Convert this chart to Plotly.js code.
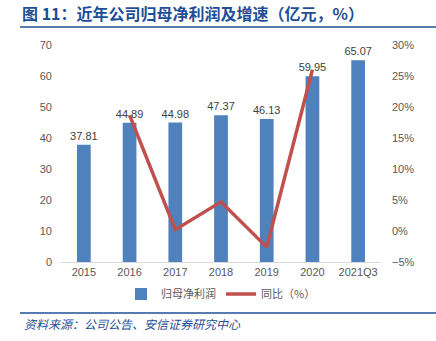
<!DOCTYPE html>
<html><head><meta charset="utf-8">
<script src="https://cdn.plot.ly/plotly-3.0.1.min.js"></script>
<style>html,body{margin:0;padding:0;background:#fff;}#c{width:436px;height:341px;}</style>
</head><body><div id="c"></div>
<script>
const categories = ['2015','2016','2017','2018','2019','2020','2021Q3'];
const profit = [37.81, 44.89, 44.98, 47.37, 46.13, 59.95, 65.07];
const growth = [null, 18.7, 0.2, 4.7, -2.6, 26.0, null];
const seriesNames = ['归母净利润', '同比（%）'];
const titleText = '图 11：近年公司归母净利润及增速（亿元，%）';
const sourceText = '资料来源：公司公告、安信证券研究中心';

const numFont = 'Liberation Sans, Arial, sans-serif';
const cjk = 'Noto Sans CJK SC, sans-serif';
const blue = '#1F4E96';

const traces = [
  {type:'bar', x:categories, y:profit, name:seriesNames[0], width:0.3,
   marker:{color:'#4F81BD'}, text:profit.map(v=>v.toFixed(2)), textposition:'outside',
   constraintext:'none',
   textfont:{family:numFont,size:11,color:'#404040'}, cliponaxis:false},
  {type:'scatter', mode:'lines', x:categories, y:growth, yaxis:'y2', name:seriesNames[1],
   line:{color:'#C0504D',width:3.5}, connectgaps:false}
];

const layout = {
  width:436, height:341,
  margin:{l:61, r:55, t:45, b:79},
  paper_bgcolor:'#fff', plot_bgcolor:'#fff',
  showlegend:true,
  title:{text:'<b>'+titleText+'</b>', font:{family:cjk,size:16,color:blue},
    xref:'container', yref:'container', x:22/436, xanchor:'left', y:1-14/341, yanchor:'middle'},
  xaxis:{type:'category', showgrid:false, showline:true, linecolor:'#D9D9D9', linewidth:1,
    ticks:'', tickfont:{family:numFont,size:11,color:'#595959'}, fixedrange:true},
  yaxis:{range:[0,70], dtick:10, showgrid:false, zeroline:false, showline:false,
    tickfont:{family:numFont,size:11,color:'#595959'}, ticklabelstandoff:8},
  yaxis2:{range:[-5,30], dtick:5, overlaying:'y', side:'right', showgrid:false, zeroline:false,
    ticksuffix:'%', tickfont:{family:numFont,size:11,color:'#595959'}, ticklabelstandoff:10},
  legend:{orientation:'h', x:0.5, xanchor:'center', y:-0.147, yanchor:'middle',
    font:{family:cjk,size:11,color:'#595959'}, itemwidth:30, entrywidth:0},
  shapes:[
    {type:'line', xref:'paper', yref:'paper', x0:(20-61)/320, x1:(436-61)/320, y0:(262-27)/217, y1:(262-27)/217,
     line:{color:blue,width:1.5}},
    {type:'line', xref:'paper', yref:'paper', x0:(20-61)/320, x1:(436-61)/320, y0:(262-313)/217, y1:(262-313)/217,
     line:{color:blue,width:1.5}}
  ],
  annotations:[
    {text:'<i>'+sourceText+'</i>', xref:'paper', yref:'paper', x:(22-61)/320, xanchor:'left',
     y:(262-323)/217, yanchor:'middle', showarrow:false, font:{family:cjk,size:12,color:blue}}
  ]
};
Plotly.newPlot('c', traces, layout, {displayModeBar:false, staticPlot:true});
</script></body></html>
